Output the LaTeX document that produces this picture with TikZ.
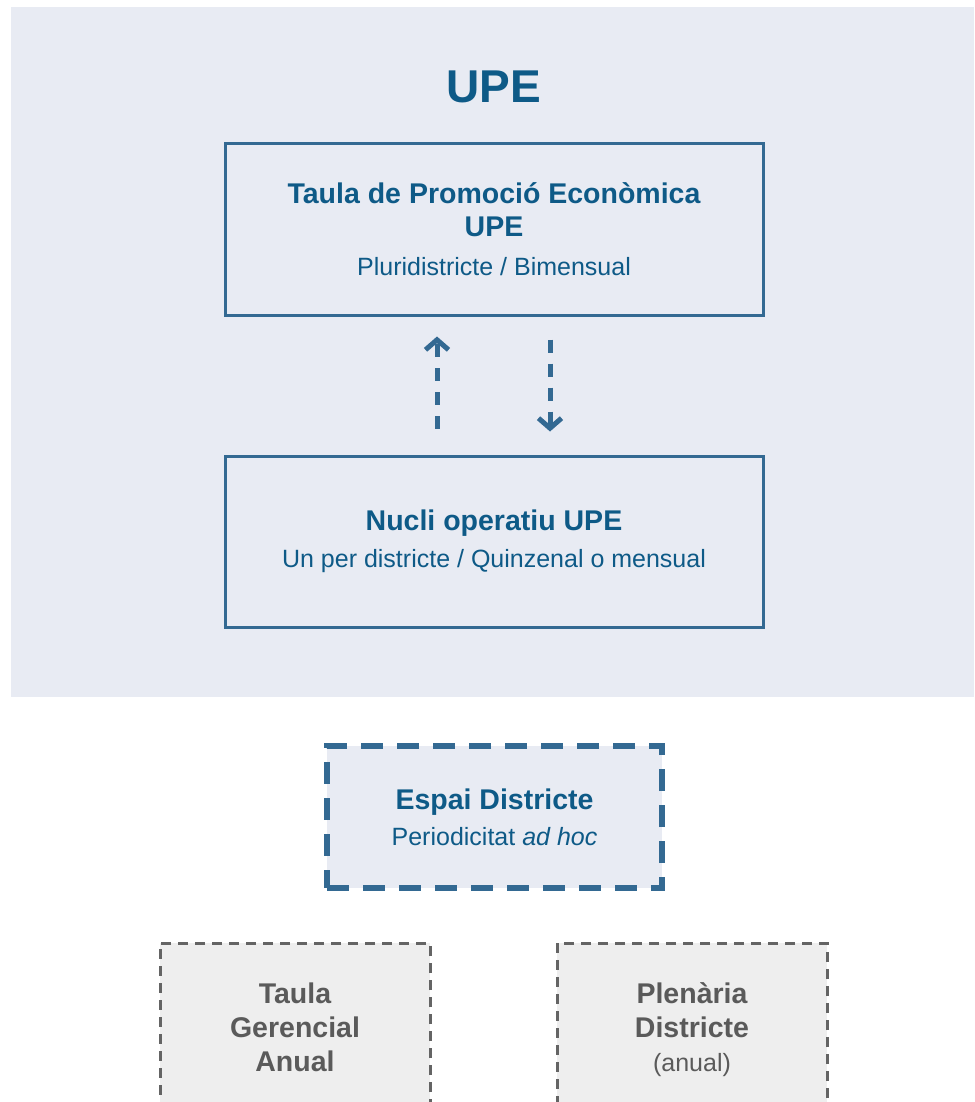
\documentclass[tikz,border=0pt]{standalone}
\usepackage{fontspec}
\setmainfont{Liberation Sans}
\usepackage{xcolor}
\usetikzlibrary{arrows.meta,positioning}
\definecolor{upeblue}{RGB}{14,90,135}
\definecolor{upeline}{RGB}{51,105,146}
\definecolor{upepanel}{RGB}{232,235,243}
\definecolor{upegray}{RGB}{90,90,90}
\definecolor{upedash}{RGB}{100,100,100}
\definecolor{upelight}{RGB}{238,238,238}
\newcommand{\sub}[1]{{\fontsize{25}{33}\mdseries #1}}

\begin{document}
\begin{tikzpicture}[x=1pt,y=-1pt,
        box/.style={rectangle,draw=upeline,line width=3pt,fill=upepanel,
          minimum width=538pt,minimum height=171pt,align=center,text=upeblue,inner sep=0pt,
          font=\fontsize{28.5}{33}\selectfont\bfseries},
        espaibox/.style={box,line width=6pt,dash pattern=on 22pt off 14pt,
          minimum width=335pt,minimum height=142pt},
        graybox/.style={rectangle,draw=upedash,line width=3pt,dash pattern=on 10pt off 7pt,
          fill=upelight,minimum width=270pt,minimum height=168pt,align=center,
          text=upegray,inner sep=0pt,font=\fontsize{28.5}{34}\selectfont\bfseries},
        flow/.style={draw=upeline,line width=5pt,dash pattern=on 13pt off 11pt,
          -{Straight Barb[length=10pt,width=23pt,line width=5pt]}}]
        \useasboundingbox (0,0) rectangle (974,1102);
        \fill[upepanel] (11,7) rectangle (974,697);
        \node[text=upeblue,font=\fontsize{46}{50}\selectfont\bfseries] (title) at (494,87) {UPE};
        \node[box] (taula) at (494,229.5) {Taula de Promoció Econòmica\\UPE\\[6pt]
          \sub{Pluridistricte / Bimensual}};
        \node[box] (nucli) at (494,541.5) {Nucli operatiu UPE\\[4pt]
          \sub{Un per districte / Quinzenal o mensual}};
        \node[espaibox] (espai) at (494.5,817) {Espai Districte\\[3pt]
          \sub{Periodicitat \textit{ad hoc}}};
        \node[graybox] (gerencial) at (295,1027) {Taula\\Gerencial\\Anual};
        \node[graybox,minimum height=174pt,right=124pt of gerencial.north east,anchor=north west]
          (plenaria) {Plenària\\Districte\\\sub{(anual)}};
        % up and down links between the two UPE boxes
        \draw[flow,shorten <=26pt,shorten >=20pt] ([xshift=-57pt]nucli.north) -- ([xshift=-57pt]taula.south);
        \draw[flow,shorten <=23pt,shorten >=23pt] ([xshift=56pt]taula.south) -- ([xshift=56pt]nucli.north);
      \end{tikzpicture}
\end{document}
